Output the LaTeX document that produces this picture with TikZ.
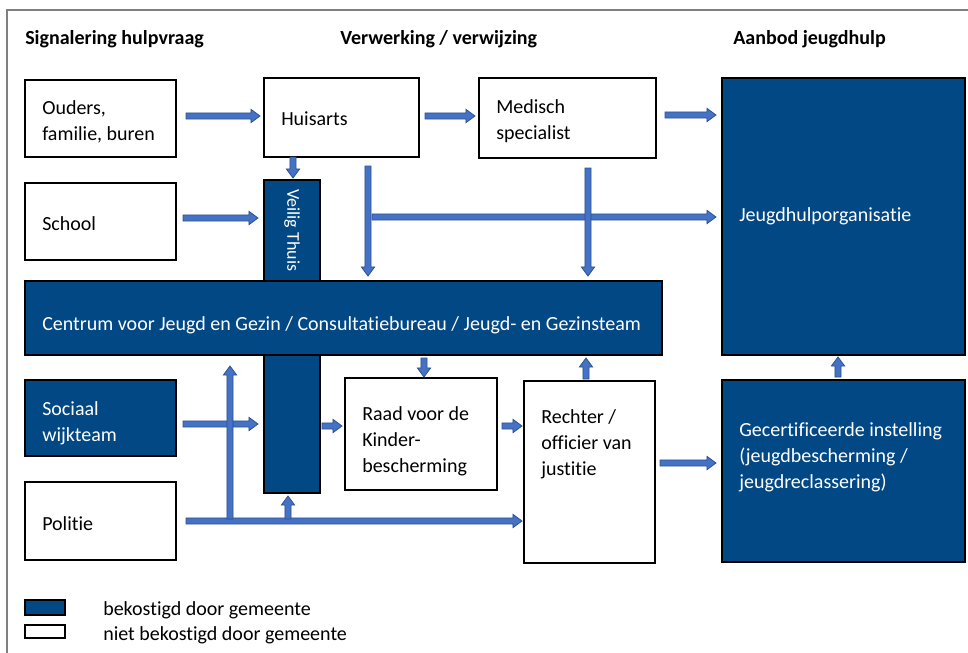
\documentclass[tikz,border=0pt]{standalone}
\usepackage{fontspec}
\setmainfont[Ligatures=NoCommon]{Carlito}
\usetikzlibrary{calc,fit}
\definecolor{darkblue}{RGB}{2,72,132}
\definecolor{arrowfill}{RGB}{68,114,196}
\definecolor{arrowline}{RGB}{47,82,143}
\definecolor{framegray}{RGB}{128,128,128}
\def\baw{2.3pt}
\def\baW{5.0pt}
\def\bah{6.8pt}
\tikzset{
  box/.style={draw=black, line width=0.9pt, fill=white, inner sep=0pt, outer sep=0pt},
  dbox/.style={box, fill=darkblue},
  txt/.style={anchor=west, align=left, inner sep=0pt, yshift=-1.7pt, font=\fontsize{15}{19.5}\selectfont},
  wtxt/.style={txt, text=white},
  headtxt/.style={anchor=west, inner sep=0pt, yshift=-1.5pt, font=\fontsize{15}{19.5}\selectfont\bfseries},
  barrow/.style={draw=arrowline, fill=arrowfill, line width=0.6pt, line join=miter,
    to path={
      (\tikztostart) ($(\tikztotarget)!\bah!(\tikztostart)$) coordinate (bahd)
      ($(\tikztostart)!\baw!90:(\tikztotarget)$) --
      ($(bahd)!\baw!-90:(\tikztostart)$) --
      ($(bahd)!\baW!-90:(\tikztostart)$) --
      (\tikztotarget) --
      ($(bahd)!\baW!90:(\tikztostart)$) --
      ($(bahd)!\baw!90:(\tikztostart)$) --
      ($(\tikztostart)!\baw!-90:(\tikztotarget)$) -- cycle
    }}
}
\begin{document}
\begin{tikzpicture}[x=0.75pt, y=-0.75pt]
\useasboundingbox (0,0) rectangle (968,653);
\draw[framegray, line width=1.1pt] (7,653) -- (7,10) -- (968,10);

% headers
\node[headtxt] (h1) at (25,37) {Signalering hulpvraag};
\node[headtxt] (h2) at (340,37) {Verwerking / verwijzing};
\node[headtxt] (h3) at (733,37) {Aanbod jeugdhulp};

% boxes
\node[box, fit={(25,80)(176,157)}] (ouders) {};
\node[box, fit={(264,78)(419,157)}] (huisarts) {};
\node[box, fit={(479,78)(656,158)}] (medisch) {};
\node[dbox, fit={(722,78)(965,355)}] (jeugdhulp) {};
\node[box, fit={(25,183)(176,260)}] (school) {};
\node[dbox, fit={(264,180)(320,493)}] (veilig) {};
\node[dbox, fit={(25,281)(662,355)}] (cjg) {};
\node[dbox, fit={(25,380)(176,456)}] (sociaal) {};
\node[box, fit={(345,378)(497,490)}] (raad) {};
\node[box, fit={(524,381)(655,563)}] (rechter) {};
\node[dbox, fit={(722,380)(965,562)}] (gecert) {};
\node[box, fit={(25,482)(176,560)}] (politie) {};

% texts
\node[txt] (oudersT) at (42,120) {Ouders,\\familie, buren};
\node[txt] (huisartsT) at (281,116) {Huisarts};
\node[txt] (medischT) at (496,118.5) {Medisch\\specialist};
\node[wtxt] (jeugdhulpT) at (739,214) {Jeugdhulporganisatie};
\node[txt] (schoolT) at (42,221) {School};
\node[wtxt, anchor=center, rotate=-90, yshift=0pt, font=\fontsize{13.5}{16}\selectfont] (veiligT) at (292,228) {Veilig Thuis};
\node[wtxt] (cjgT) at (42,323) {Centrum voor Jeugd en Gezin / Consultatiebureau / Jeugd- en Gezinsteam};
\node[wtxt] (sociaalT) at (42,421) {Sociaal\\wijkteam};
\node[txt] (raadT) at (362,439) {Raad voor de\\Kinder-\\bescherming};
\node[txt] (rechterT) at (541,441.5) {Rechter /\\officier van\\justitie};
\node[wtxt] (gecertT) at (739,455) {Gecertificeerde instelling\\(jeugdbescherming /\\jeugdreclassering)};
\node[txt] (politieT) at (42,521) {Politie};

% legend
\node[dbox, fit={(25,600)(65,615)}] (leg1) {};
\node[box, fit={(25,625)(65,638)}] (leg2) {};
\node[txt] (leg1T) at (103,608) {bekostigd door gemeente};
\node[txt] (leg2T) at (103,633) {niet bekostigd door gemeente};

% arrows
\draw[barrow] ($(ouders.east)+(10,-2.5)$) to ($(huisarts.west |- ouders.east)+(-4,-2.5)$);
\draw[barrow] ($(huisarts.east)+(6,-1.5)$) to ($(medisch.west |- huisarts.east)+(-4,-1.5)$);
\draw[barrow] ($(medisch.east)+(9,-3)$) to ($(jeugdhulp.west |- medisch.east)+(-6,-3)$);
\draw[barrow] ($(huisarts.south west)+(29,0)$) to ($(veilig.north west)+(29,-2)$);
\draw[barrow] ($(school.east)+(7,-3.5)$) to ($(veilig.west |- school.east)+(-6,-3.5)$);
\draw[barrow] ($(huisarts.south west)+(108,60)$) to ($(jeugdhulp.west |- huisarts.south west)+(-6,60)$);
\draw[barrow] ($(huisarts.south west)+(104,9)$) to ($(huisarts.south west |- cjg.north)+(104,-5)$);
\draw[barrow] ($(medisch.south west)+(109,10)$) to ($(medisch.south west |- cjg.north)+(109,-5)$);
\draw[barrow] ($(cjg.south west)+(399,3)$) to ($(raad.north west)+(79,-1)$);
\draw[barrow] ($(rechter.north west)+(62,-2)$) to ($(rechter.north west |- cjg.south)+(62,3)$);
\draw[barrow] ($(gecert.north west)+(116,-3)$) to ($(gecert.north west |- jeugdhulp.south)+(116,2)$);
\draw[barrow] ($(sociaal.east)+(7,6)$) to ($(veilig.west |- sociaal.east)+(-6,6)$);
\draw[barrow] ($(veilig.east |- raad.west)+(2,-8)$) to ($(raad.west)+(-3,-8)$);
\draw[barrow] ($(raad.east)+(5,-8)$) to ($(rechter.west |- raad.east)+(-2,-8)$);
\draw[barrow] ($(rechter.east)+(5,-9)$) to ($(gecert.west |- rechter.east)+(-6,-9)$);
\draw[barrow] ($(politie.east)+(10,0)$) to ($(rechter.west |- politie.east)+(-2,0)$);
\draw[barrow] ($(politie.east)+(54,-2)$) to ($(politie.east |- cjg.south)+(54,11)$);
\draw[barrow] ($(politie.east)+(112,-2)$) to ($(veilig.south west)+(24,3)$);
\end{tikzpicture}
\end{document}
